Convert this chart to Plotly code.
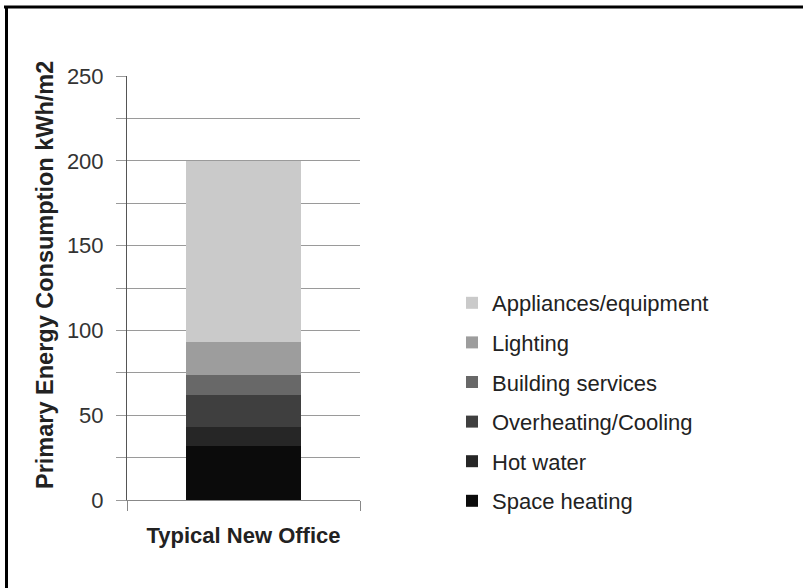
import plotly.graph_objects as go

categories = ["Typical New Office"]
series_names = ["Space heating", "Hot water", "Overheating/Cooling",
                "Building services", "Lighting", "Appliances/equipment"]
series_values = [[32], [11], [19], [12], [19], [107]]
series_colors = ["#0b0b0b", "#262626", "#3f3f3f", "#686868", "#9d9d9d", "#cacaca"]
y_tickvals = [0, 25, 50, 75, 100, 125, 150, 175, 200, 225, 250]
y_ticktext = ["0", "", "50", "", "100", "", "150", "", "200", "", "250"]
y_title = "Primary Energy Consumption kWh/m2"

FONT = "Liberation Sans, Arial, sans-serif"

fig = go.Figure()
n = len(series_names)
for i, (name, vals, col) in enumerate(zip(series_names, series_values, series_colors)):
    fig.add_trace(go.Bar(
        x=categories, y=vals, name=name, legendgroup=name,
        legendrank=n - i,
        marker=dict(color=col, line=dict(width=0)),
        width=0.49,
    ))

# plot area in px: x 127..360, y 76..500
L, R, T, B = 127, 360, 76, 500
W, H = 803, 588
def px_x(p):
    return (p - L) / (R - L)
def px_y(p):
    return (B - p) / (B - T)

fig.update_layout(
    width=W, height=H,
    margin=dict(l=L, r=W - R, t=T, b=H - B, autoexpand=False),
    barmode="stack",
    paper_bgcolor="white", plot_bgcolor="white",
    font=dict(family=FONT, color="#222222", size=22),
    showlegend=True,
    legend=dict(
        x=px_x(452), y=px_y(402), xanchor="left", yanchor="middle",
        traceorder="grouped", tracegroupgap=8,
        font=dict(size=22, color="#222222"),
        bgcolor="rgba(0,0,0,0)",
    ),
    xaxis=dict(
        range=[-0.5, 0.5], showgrid=False,
        showline=True, linecolor="#888888", linewidth=1,
        ticks="outside", tickson="boundaries", ticklen=10, tickcolor="#888888",
        ticklabelstandoff=16,
        tickfont=dict(size=22, color="#222222", family=FONT, weight="bold"),
        automargin=False,
    ),
    yaxis=dict(
        range=[0, 250], tickvals=y_tickvals, ticktext=y_ticktext,
        showgrid=True, gridcolor="#9a9a9a", gridwidth=1,
        showline=True, linecolor="#555555", linewidth=1,
        ticks="outside", ticklen=10, tickcolor="#9a9a9a",
        ticklabelstandoff=8,
        tickfont=dict(size=22, color="#333333"),
        zeroline=False,
        automargin=False,
    ),
    annotations=[
        dict(text="<b>" + y_title + "</b>", textangle=-90,
             xref="paper", yref="paper", x=px_x(45), y=px_y(275),
             xanchor="center", yanchor="middle", showarrow=False,
             font=dict(size=23.5, color="#222222", family=FONT)),
    ],
    shapes=[
        dict(type="line", xref="paper", yref="paper",
             x0=px_x(4), x1=px_x(803), y0=px_y(7), y1=px_y(7),
             line=dict(color="black", width=3)),
        dict(type="line", xref="paper", yref="paper",
             x0=px_x(6.5), x1=px_x(6.5), y0=px_y(6), y1=px_y(588),
             line=dict(color="black", width=3)),
    ],
)

fig.write_html("out.html",
               config={"displayModeBar": False},
               post_script="document.body.style.margin='0';document.body.style.overflow='hidden';")
